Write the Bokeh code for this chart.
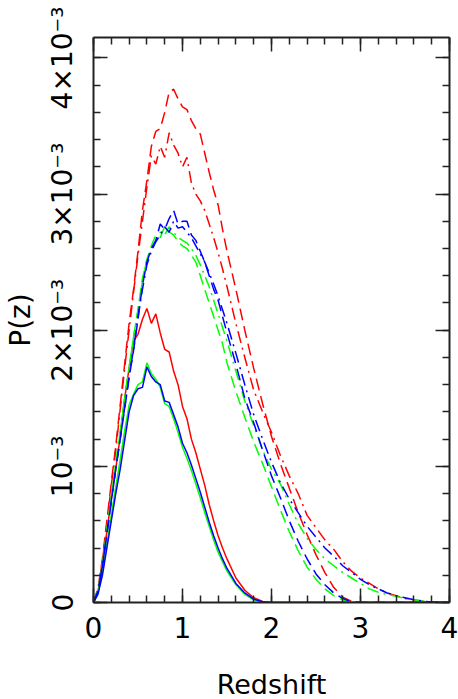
from bokeh.plotting import figure
from bokeh.models import Range1d, LinearAxis, SingleIntervalTicker, Label
from bokeh.embed import file_html
from bokeh.resources import INLINE

# Redshift grid
z = [0.0, 0.05, 0.1, 0.15, 0.2, 0.25, 0.3, 0.35, 0.4, 0.45, 0.5, 0.55, 0.6, 0.65,
     0.7, 0.75, 0.8, 0.85, 0.9, 0.95, 1.0, 1.05, 1.1, 1.15, 1.2, 1.25, 1.3, 1.35,
     1.4, 1.45, 1.5, 1.6, 1.7, 1.8, 1.9, 2.0, 2.1, 2.2, 2.3, 2.4, 2.5, 2.6, 2.7,
     2.8, 2.9, 3.0, 3.1, 3.2, 3.3, 3.4, 3.5, 3.6, 3.7, 3.8, 3.9, 4.0]

# P(z) in units of 1e-3
red_solid = [0, 0.08, 0.28, 0.52, 0.76, 0.98, 1.22, 1.5, 1.72, 1.92, 1.97, 2.08, 2.16, 2.05,
             2.12, 1.98, 1.86, 1.84, 1.70, 1.60, 1.44, 1.35, 1.20, 1.10, 0.98, 0.86, 0.72, 0.60,
             0.49, 0.40, 0.32, 0.18, 0.09, 0.035, 0.008, 0,
             0, 0, 0, 0, 0, 0, 0, 0, 0, 0, 0, 0, 0, 0, 0, 0, 0, 0, 0, 0]
green_solid = [0, 0.07, 0.22, 0.43, 0.64, 0.85, 1.05, 1.26, 1.45, 1.53, 1.6, 1.62, 1.76, 1.68,
               1.64, 1.58, 1.46, 1.44, 1.35, 1.25, 1.14, 1.06, 0.97, 0.87, 0.77, 0.66, 0.56, 0.46,
               0.37, 0.30, 0.23, 0.13, 0.06, 0.02, 0.003, 0,
               0, 0, 0, 0, 0, 0, 0, 0, 0, 0, 0, 0, 0, 0, 0, 0, 0, 0, 0, 0]
blue_solid = [0, 0.06, 0.2, 0.4, 0.6, 0.8, 0.98, 1.19, 1.40, 1.52, 1.57, 1.58, 1.73, 1.66,
              1.62, 1.60, 1.48, 1.47, 1.38, 1.29, 1.17, 1.10, 1.01, 0.91, 0.81, 0.70, 0.59, 0.49,
              0.40, 0.32, 0.25, 0.14, 0.07, 0.025, 0.005, 0,
              0, 0, 0, 0, 0, 0, 0, 0, 0, 0, 0, 0, 0, 0, 0, 0, 0, 0, 0, 0]

red_dashed = [0, 0.1, 0.32, 0.6, 0.88, 1.15, 1.45, 1.75, 2.05, 2.3, 2.58, 2.88, 3.1, 3.35,
              3.46, 3.48, 3.6, 3.75, 3.77, 3.7, 3.64, 3.62, 3.54, 3.48, 3.44, 3.3, 3.16, 3.03,
              2.92, 2.74, 2.58, 2.3, 2.0, 1.72, 1.46, 1.22, 1.02, 0.84, 0.66, 0.5, 0.35, 0.22,
              0.11, 0.04, 0.008, 0, 0, 0, 0, 0, 0, 0, 0, 0, 0, 0]
green_dashed = [0, 0.09, 0.28, 0.53, 0.78, 1.02, 1.25, 1.5, 1.72, 1.95, 2.15, 2.38, 2.52, 2.62,
                2.7, 2.68, 2.76, 2.72, 2.7, 2.65, 2.62, 2.6, 2.55, 2.5, 2.4, 2.3, 2.2, 2.1,
                2.0, 1.9, 1.76, 1.55, 1.36, 1.18, 1.02, 0.85, 0.68, 0.52, 0.38, 0.26, 0.17, 0.1,
                0.05, 0.02, 0.003, 0, 0, 0, 0, 0, 0, 0, 0, 0, 0, 0]
blue_dashed = [0, 0.08, 0.26, 0.5, 0.74, 0.98, 1.2, 1.42, 1.65, 1.85, 2.08, 2.33, 2.5, 2.6,
               2.66, 2.78, 2.74, 2.82, 2.88, 2.78, 2.8, 2.8, 2.7, 2.66, 2.58, 2.5, 2.4, 2.3,
               2.22, 2.1, 1.98, 1.75, 1.5, 1.32, 1.12, 0.93, 0.77, 0.6, 0.45, 0.32, 0.21, 0.13,
               0.07, 0.03, 0.005, 0, 0, 0, 0, 0, 0, 0, 0, 0, 0, 0]

red_dashdot = [0, 0.1, 0.3, 0.58, 0.86, 1.12, 1.42, 1.72, 2.0, 2.28, 2.55, 2.8, 3.05, 3.28,
               3.22, 3.35, 3.27, 3.45, 3.36, 3.3, 3.2, 3.27, 3.08, 3.0, 2.95, 2.88, 2.78, 2.68,
               2.57, 2.45, 2.32, 2.05, 1.8, 1.56, 1.4, 1.25, 1.08, 0.93, 0.8, 0.64, 0.55, 0.46,
               0.39, 0.3, 0.23, 0.18, 0.14, 0.1, 0.07, 0.05, 0.03, 0.02, 0.01, 0.003, 0, 0]
green_dashdot = [0, 0.09, 0.28, 0.53, 0.78, 1.02, 1.26, 1.5, 1.73, 1.95, 2.15, 2.36, 2.52, 2.6,
                 2.65, 2.72, 2.7, 2.76, 2.72, 2.68, 2.66, 2.64, 2.6, 2.55, 2.48, 2.4, 2.32, 2.22,
                 2.12, 2.02, 1.92, 1.7, 1.48, 1.3, 1.12, 0.98, 0.87, 0.72, 0.58, 0.47, 0.39, 0.32,
                 0.27, 0.22, 0.18, 0.14, 0.1, 0.075, 0.06, 0.045, 0.03, 0.02, 0.01, 0.004, 0, 0]
blue_dashdot = [0, 0.08, 0.27, 0.5, 0.75, 0.98, 1.2, 1.43, 1.66, 1.86, 2.1, 2.3, 2.48, 2.58,
                2.65, 2.7, 2.76, 2.72, 2.8, 2.75, 2.76, 2.72, 2.68, 2.62, 2.56, 2.5, 2.42, 2.34,
                2.25, 2.15, 2.05, 1.83, 1.6, 1.38, 1.2, 1.03, 0.88, 0.76, 0.66, 0.56, 0.48, 0.4,
                0.34, 0.27, 0.22, 0.17, 0.13, 0.1, 0.07, 0.05, 0.035, 0.02, 0.01, 0.004, 0, 0]

y_tick_labels = {0: "0", 1: "10\u207b\u00b3", 2: "2\u00d710\u207b\u00b3",
                 3: "3\u00d710\u207b\u00b3", 4: "4\u00d710\u207b\u00b3"}
x_label = "Redshift"
y_label = "P(z)"

FONT = "DejaVu Sans"
AXC = "#222222"

p = figure(width=458, height=699, x_range=Range1d(0, 4), y_range=Range1d(0, 4.15),
           output_backend="svg", toolbar_location=None,
           x_axis_location=None, y_axis_location=None,
           min_border_left=90, min_border_right=9, min_border_top=37, min_border_bottom=97)
for g in p.grid:
    g.visible = False
p.outline_line_color = None
p.background_fill_color = "white"
p.border_fill_color = "white"


def make_axis(show_labels):
    ax = LinearAxis(ticker=SingleIntervalTicker(interval=1, num_minor_ticks=5))
    ax.axis_line_color = AXC
    ax.axis_line_width = 2
    ax.major_tick_line_color = AXC
    ax.minor_tick_line_color = AXC
    ax.major_tick_line_width = 1.5
    ax.minor_tick_line_width = 1.5
    ax.major_tick_in = 14
    ax.major_tick_out = 0
    ax.minor_tick_in = 7
    ax.minor_tick_out = 0
    ax.major_label_text_font = FONT
    ax.major_label_text_color = "black"
    ax.axis_label_text_font = FONT
    ax.axis_label_text_font_style = "normal"
    ax.axis_label_text_color = "black"
    if show_labels:
        ax.major_label_text_font_size = "28px"
        ax.major_label_standoff = 14
    else:
        ax.major_label_text_font_size = "0px"
        ax.major_label_text_color = None
        ax.major_label_text_alpha = 0
        ax.major_label_standoff = 0
    return ax


xb = make_axis(True)
p.add_layout(xb, "below")

yl = make_axis(True)
yl.major_label_overrides = y_tick_labels
yl.major_label_orientation = "vertical"
yl.axis_label = y_label
yl.axis_label_text_font_size = "28px"
yl.axis_label_standoff = 7
p.add_layout(yl, "left")

p.add_layout(make_axis(False), "above")
p.add_layout(make_axis(False), "right")

series = [
    (red_solid, "#ff0000", "solid"),
    (red_dashed, "#ff0000", "12 6"),
    (red_dashdot, "#ff0000", "12 5 2 5"),
    (green_solid, "#00ff00", "solid"),
    (green_dashed, "#00ff00", "12 6"),
    (green_dashdot, "#00ff00", "12 5 2 5"),
    (blue_solid, "#0000ff", "solid"),
    (blue_dashed, "#0000ff", "12 6"),
    (blue_dashdot, "#0000ff", "12 5 2 5"),
]
for ys, col, dash in series:
    p.line(z, ys, line_color=col, line_width=1.5, line_dash=dash)

# x-axis title placed in the bottom side panel (not clipped to the frame)
p.add_layout(Label(x=2.0, y=-0.60, text=x_label, text_align="center",
                   text_baseline="alphabetic", text_font=FONT,
                   text_font_size="27px", text_color="black"), "below")

open("out.html", "w").write(file_html(p, INLINE))
